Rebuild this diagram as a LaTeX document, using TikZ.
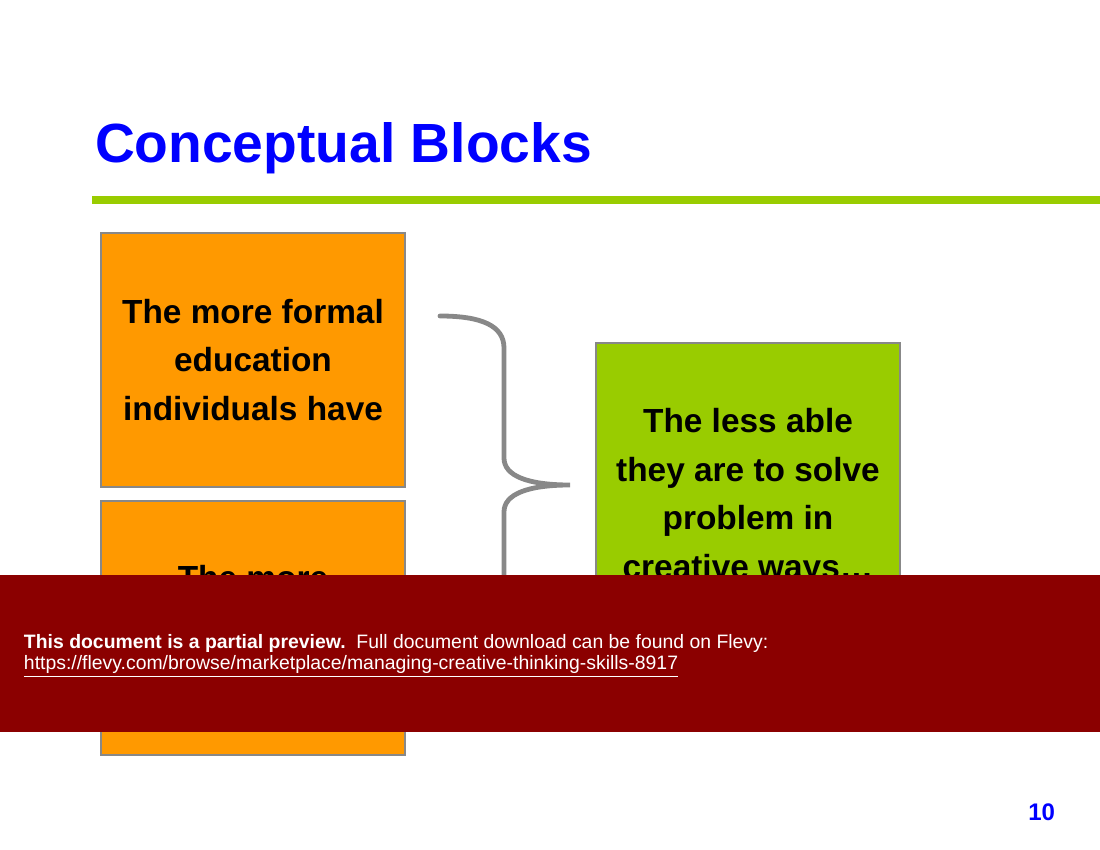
\documentclass[tikz,border=0pt]{standalone}
\usepackage{fontspec}
\setmainfont{Liberation Sans}
\definecolor{titleblue}{HTML}{0000FF}
\definecolor{barGreen}{HTML}{99CC00}
\definecolor{boxOrange}{HTML}{FF9900}
\definecolor{boxGreen}{HTML}{99CC00}
\definecolor{edgeGray}{HTML}{888888}
\definecolor{bannerRed}{HTML}{8B0000}
\begin{document}
\begin{tikzpicture}[x=0.5pt, y=-0.5pt,
    every node/.style={inner sep=0pt, outer sep=0pt},
    block/.style={rectangle, draw=edgeGray, line width=0.6pt, minimum width=152pt, minimum height=127pt},
    blocktext/.style={align=center, font=\fontsize{16.7}{24.25}\selectfont\bfseries}]
    \useasboundingbox (0,0) rectangle (1100,850);

    % Title and bar
    \node[anchor=base west, text=titleblue, font=\fontsize{27.6}{33}\selectfont\bfseries] (title) at (95,163) {Conceptual Blocks};
    \fill[barGreen] (92,196) rectangle (1100,204);

    % left blocks
    \node[block, fill=boxOrange] (edu) at (253,360) {};
    \node[blocktext] (edutext) at (253,360) {The more formal\\education\\individuals have};
    \node[block, fill=boxOrange] (more) at (253,628) {};
    \node[blocktext, anchor=base] (moretext) at (253,590) {The more};

    % right block
    \node[block, fill=boxGreen, minimum height=154pt] (less) at (748,497) {};
    \node[blocktext] (lesstext) at (748,497) {The less able\\they are to solve\\problem in\\creative ways\dots};

    % the brace
    \draw[edgeGray, line width=2.4pt, line cap=round]
        (440,316) .. controls (482,316) and (504,326) .. (504,348) -- (504,458)
        .. controls (504,476) and (528,485) .. (570,485)
        .. controls (528,485) and (504,494) .. (504,512) -- (504,622)
        .. controls (504,644) and (482,654) .. (440,654);

    % preview banner
    \fill[bannerRed] (0,575) rectangle (1100,732);
    \node[anchor=base west, text=white, font=\fontsize{9.7}{11}\selectfont] (note) at (24,649)
        {\textbf{This document is a partial preview.}\ \ Full document download can be found on Flevy:};
    \node[anchor=base west, text=white, font=\fontsize{9.7}{11}\selectfont] (link) at (24,670)
        {\underline{https://flevy.com/browse/marketplace/managing-creative-thinking-skills-8917}};

    % page number
    \node[anchor=base east, text=titleblue, font=\fontsize{12}{14}\selectfont\bfseries] (page) at (1055,820) {10};
\end{tikzpicture}
\end{document}
